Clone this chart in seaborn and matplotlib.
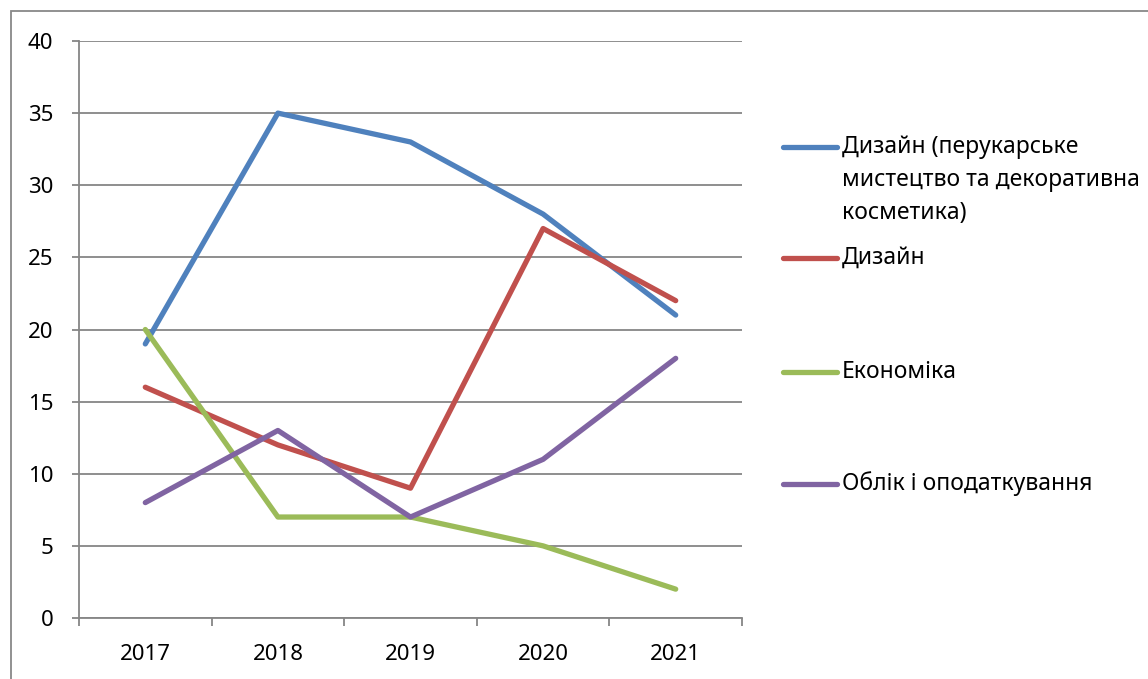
import pandas as pd
import matplotlib.pyplot as plt
import seaborn as sns
from matplotlib.lines import Line2D
from matplotlib.patches import Rectangle

years = [2017, 2018, 2019, 2020, 2021]
series_names = [
    'Дизайн (перукарське мистецтво та декоративна косметика)',
    'Дизайн',
    'Економіка',
    'Облік і оподаткування',
]
legend_lines = [
    ['Дизайн (перукарське', 'мистецтво та декоративна', 'косметика)'],
    ['Дизайн'],
    ['Економіка'],
    ['Облік і оподаткування'],
]
design_hair = [19, 35, 33, 28, 21]
design = [16, 12, 9, 27, 22]
economics = [20, 7, 7, 5, 2]
accounting = [8, 13, 7, 11, 18]
colors = ['#4F81BD', '#C0504D', '#9BBB59', '#8064A2']

values = [design_hair, design, economics, accounting]
df = pd.DataFrame({
    'year': years * len(series_names),
    'value': [v for vals in values for v in vals],
    'series': [n for n in series_names for _ in years],
})

sns.set_style('white')
plt.rcParams['font.family'] = ['Noto Sans', 'DejaVu Sans']
plt.rcParams['text.color'] = 'black'
plt.rcParams['xtick.color'] = 'black'
plt.rcParams['ytick.color'] = 'black'

W, H = 1148, 679
fig = plt.figure(figsize=(W / 100, H / 100), dpi=100)
ax = fig.add_axes([79 / W, 1 - 618 / H, (742 - 79) / W, (618 - 41) / H])

sns.lineplot(data=df, x='year', y='value', hue='series', hue_order=series_names,
             palette=dict(zip(series_names, colors)), linewidth=3.8, sort=False,
             legend=False, ax=ax)

grid_c = '#868686'
ax.set_xlim(2016.5, 2021.5)
ax.set_ylim(0, 40)
ax.set_yticks(range(0, 41, 5))
ax.yaxis.grid(True, color=grid_c, linewidth=1.3)
ax.set_axisbelow(True)
ax.set_xticks(years)
ax.set_xticks([y + 0.5 for y in [2016] + years], minor=True)
ax.tick_params(axis='x', which='major', bottom=False, length=0, pad=19, labelsize=16,
               labelcolor='black')
ax.tick_params(axis='x', which='minor', bottom=True, length=5.5, width=1.3, color=grid_c,
               direction='out')
ax.tick_params(axis='y', left=True, length=5, width=1.3, color=grid_c, direction='out',
               pad=13.5, labelsize=16, labelcolor='black')
for s in ['top', 'right']:
    ax.spines[s].set_visible(False)
for s in ['left', 'bottom']:
    ax.spines[s].set_color(grid_c)
    ax.spines[s].set_linewidth(1.3)
ax.set_xlabel('')
ax.set_ylabel('')

# outer chart border (cut off at the right and bottom like the source)
fig.add_artist(Rectangle((11 / W, -0.1), 1.2, 1 - 11 / H + 0.1, transform=fig.transFigure,
                         fill=False, edgecolor='#888888', linewidth=1.3))

# legend drawn manually so the handle sits on the first line of text
legend_y = [147, 258, 372, 484]
for lines, c, y0 in zip(legend_lines, colors, legend_y):
    fig.add_artist(Line2D([783 / W, 837 / W], [1 - y0 / H] * 2, transform=fig.transFigure,
                          color=c, linewidth=3.8, solid_capstyle='round'))
    for i, t in enumerate(lines):
        fig.text(842 / W, 1 - (y0 + i * 33) / H, t, fontsize=16.5, va='center', ha='left',
                 color='black')

fig.savefig('out.png', dpi=100)
